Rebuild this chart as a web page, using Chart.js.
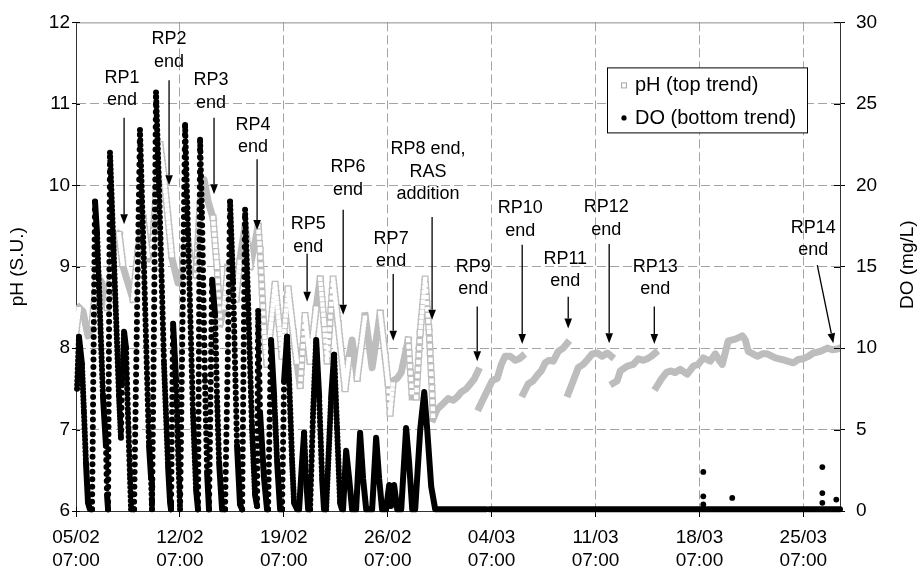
<!DOCTYPE html>
<html><head><meta charset="utf-8">
<script src="https://cdn.jsdelivr.net/npm/chart.js@4.4.1/dist/chart.umd.min.js"></script>
<style>html,body{margin:0;padding:0;background:#fff;}#wrap{width:921px;height:576px;}</style>
</head><body><div id="wrap"><canvas id="c" width="921" height="576"></canvas></div>
<script>
// ---- axis ticks ----
const tickDays = [0, 7, 14, 21, 28, 35, 42, 49];
const tickDates = ['05/02', '12/02', '19/02', '26/02', '04/03', '11/03', '18/03', '25/03'];
const tickTime = '07:00';
const xMaxDay = 51.47;

// ---- DO trace (days since 05/02 07:00, mg/L) ----
const doT = [0.07,0.20,0.40,0.54,0.67,0.81,0.94,
1.08,1.28,1.42,1.82,2.02,2.09,2.16,
2.29,2.49,2.90,3.03,3.10,3.24,3.37,3.50,3.64,3.71,
3.91,4.11,4.31,4.58,4.92,5.06,5.12,
5.26,5.39,5.59,5.93,6.20,6.34,
6.40,6.54,6.74,6.87,7.01,
7.21,7.35,7.55,7.88,8.09,8.22,
8.36,8.49,8.69,8.83,8.96,
9.17,9.37,9.50,9.64,9.84,
10.04,10.24,10.38,10.58,10.85,11.05,11.19,
11.39,11.59,11.86,12.06,12.20,
12.27,12.40,12.67,12.87,
12.94,13.14,13.35,13.55,13.75,
13.88,14.02,14.22,14.36,14.56,14.69,14.90,
15.03,15.23,15.37,15.50,15.64,
15.77,15.97,16.18,16.38,16.58,16.71,
16.85,17.19,17.39,17.59,17.79,17.92,
17.99,18.20,18.40,18.60,
18.87,19.14,19.34,19.55,
19.95,20.22,20.42,20.62,
20.89,21.10,21.23,21.43,21.64,
21.91,22.24,22.44,22.65,
22.85,23.19,23.46,23.66,23.93,24.20,
27.63,27.73,27.84,51.47];
const doV = [7.5,10.7,9,6,3,0.5,0.1,
0.1,19,17,7,4,1,0.1,
22,17,7,4.5,8,11,10,6,2,0.1,
0.1,12,23.4,15,4,2,0.1,
12,25.7,20,9,2.8,0.5,
0.1,11.5,8,4,0.1,
14,23.7,17,6,1.3,0.1,
22.8,18,8,2.4,0.1,
14.2,12,7,3,0.1,
0.1,10,19,14,4,0.4,0.1,
18.5,13,5,1,0.3,
12.4,6,2,0.1,
0.1,10.5,7,3,0.1,
0.1,8,10.7,8,3,0.5,0.1,
0.1,3,4.8,2,0.1,
0.1,6,10.5,7,2,0.1,
0.1,7,9.6,5,0.5,0.1,
0.1,3.7,2,0.1,
0.1,4.8,2,0.1,
0.1,4.5,2,0.1,
0.1,1.6,0.3,1.6,0.1,
0.1,5.1,3,0.1,
0.1,5,7.3,5,1.5,0.1,
0.1,null,0.1,0.1];
// isolated DO readings in late March
const doSpikeT = [42.26, 42.26, 42.26, 44.21, 50.28, 50.28, 50.28, 51.22];
const doSpikeV = [2.4, 0.9, 0.4, 0.8, 2.7, 1.1, 0.5, 0.7];

// ---- pH trace (days, S.U.) ----
const phT = [0.00,0.20,0.47,0.81,1.08,1.42,1.75,2.09,2.29,2.56,2.90,3.17,3.50,3.84,4.18,4.52,4.85,5.12,5.39,5.66,
5.93,6.20,6.47,6.87,7.21,7.48,7.75,8.09,8.36,8.63,8.90,9.23,9.50,9.71,9.98,10.24,10.51,10.78,11.05,11.39,
11.73,12.06,12.27,12.40,12.67,12.87,13.14,13.41,13.68,13.88,14.29,14.63,14.90,15.10,15.43,15.77,16.18,16.45,16.72,16.92,
17.32,17.66,18.13,18.40,18.60,18.94,19.48,19.95,20.49,20.83,21.03,21.16,21.37,21.64,21.91,22.38,22.65,22.92,23.19,23.52,
23.79,23.99,
24.06,24.33,24.74,25.07,25.41,25.68,25.95,26.29,26.56,26.83,27.09,
27.12,
27.16,27.50,27.77,28.04,28.38,28.65,28.91,29.25,29.59,29.86,30.06,
30.10,
30.13,30.46,30.80,31.14,31.34,31.61,31.88,32.15,32.49,32.82,33.09,
33.12,
33.16,33.50,33.83,34.17,34.51,34.78,35.12,35.45,35.79,36.06,
36.12,
36.19,36.46,36.67,37.14,37.54,37.88,38.22,38.49,38.76,39.02,
39.05,
39.09,39.43,39.77,40.04,40.37,40.71,41.18,41.59,41.92,42.26,42.73,43.07,43.34,43.54,43.94,44.42,44.89,45.09,45.29,45.90,
46.24,46.57,47.11,47.58,47.92,48.33,48.66,49.00,49.34,49.67,50.15,50.62,50.95,51.29,51.43];
const phV = [8.2,8.5,8.45,8.15,8.3,8.9,8.8,8.5,8.8,9.3,9.4,9.0,8.8,8.6,9.2,9.6,9.1,9.2,9.9,10.5,
10.1,9.6,9.1,8.8,9.0,9.4,9.0,8.9,9.8,10.07,9.8,9.6,9.0,8.3,8.5,9.0,8.7,8.6,9.1,9.5,
9.0,9.3,9.5,9.2,8.2,7.8,8.3,8.8,8.3,7.9,8.73,8.2,7.8,7.54,8.4,7.84,8.5,8.85,8.3,7.84,
8.85,8.3,7.5,7.9,8.1,7.63,8.4,7.76,8.43,7.9,7.56,7.2,7.6,7.63,7.7,8.1,7.4,7.4,8.2,8.85,
8.2,7.47,
7.13,7.25,7.32,7.38,7.36,7.4,7.46,7.5,7.56,7.62,7.72,
null,
7.27,7.4,7.5,7.6,7.63,7.8,7.9,7.9,7.85,7.87,7.9,
null,
7.44,7.56,7.6,7.68,7.72,7.82,7.85,7.84,7.96,8.0,8.06,
null,
7.44,7.6,7.76,7.8,7.87,7.93,7.94,7.9,7.94,7.9,
null,
7.57,7.6,7.72,7.78,7.8,7.87,7.85,7.87,7.9,7.94,
null,
7.52,7.62,7.7,7.72,7.7,7.74,7.68,7.78,7.8,7.88,7.84,7.93,7.85,7.8,8.09,8.11,8.15,8.1,7.96,7.9,
7.93,7.93,7.88,7.86,7.84,7.82,7.86,7.87,7.9,7.94,7.96,8.0,7.98,7.99,8.0];

// ---- annotations (data coordinates: days, pH) ----
const annText = [["RP1","end"],["RP2","end"],["RP3","end"],["RP4","end"],["RP5","end"],["RP6","end"],["RP7","end"],
  ["RP8 end,","RAS","addition"],["RP9","end"],["RP10","end"],["RP11","end"],["RP12","end"],["RP13","end"],["RP14","end"]];
const annTextDay = [3.10, 6.27, 9.10, 11.93, 15.64, 18.33, 21.23, 23.72, 26.76, 29.93, 32.96, 35.72, 39.02, 49.67];
const annTextPH  = [11.32, 11.79, 11.29, 10.74, 9.52, 10.22, 9.34, 10.44, 9.0, 9.72, 9.10, 9.73, 9.0, 9.48];
const arrowFromDay = [3.24, 6.27, 9.30, 12.20, 15.57, 18.00, 21.37, 23.99, 27.03, 30.06, 33.16, 35.92, 38.96, 49.94];
const arrowFromPH  = [10.83, 11.29, 10.83, 10.32, 9.16, 9.70, 8.91, 9.61, 8.51, 9.27, 8.63, 9.28, 8.51, 9.02];
const arrowToDay   = [3.24, 6.27, 9.30, 12.20, 15.57, 18.00, 21.37, 23.99, 27.03, 30.06, 33.16, 35.92, 38.96, 51.02];
const arrowToPH    = [9.52, 10.0, 9.89, 9.45, 8.57, 8.41, 8.09, 8.35, 7.84, 8.05, 8.24, 8.06, 8.05, 8.06];

const FONT = "'Liberation Sans', Arial, Helvetica, sans-serif";
Chart.defaults.font.family = FONT;
Chart.defaults.color = '#000';

const doData = doT.map((t, i) => ({x: t, y: doV[i]}));
const spikeData = doSpikeT.map((t, i) => ({x: t, y: doSpikeV[i]}));
const phData = phT.map((t, i) => ({x: t, y: phV[i]}));

function slopeGap(c, k, maxG) {
  const dx = Math.abs(c.p1.x - c.p0.x);
  const dy = Math.abs(c.p1.y - c.p0.y);
  return Math.min(maxG, dy / Math.max(dx, 0.3) * k);
}
const DO_K = 0.15, PH_K = 0.46;

const decor = {
  id: 'decor',
  afterDraw(chart) {
    const {ctx, chartArea: a, scales} = chart;
    const x = scales.x, y = scales.y, y2 = scales.y2;
    ctx.save();
    // top frame line
    ctx.strokeStyle = '#8c8c8c'; ctx.lineWidth = 1;
    ctx.beginPath(); ctx.moveTo(a.left, a.top + 0.5); ctx.lineTo(a.right, a.top + 0.5); ctx.stroke();
    // inner halves of tick marks
    ctx.strokeStyle = '#000';
    y.ticks.forEach(t => { const p = Math.round(y.getPixelForValue(t.value)) + 0.5; ctx.beginPath(); ctx.moveTo(a.left, p); ctx.lineTo(a.left + 4, p); ctx.stroke(); });
    y2.ticks.forEach(t => { const p = Math.round(y2.getPixelForValue(t.value)) + 0.5; ctx.beginPath(); ctx.moveTo(a.right - 6, p); ctx.lineTo(a.right, p); ctx.stroke(); });
    x.ticks.forEach(t => { const p = Math.round(x.getPixelForValue(t.value)) + 0.5; ctx.beginPath(); ctx.moveTo(p, a.bottom - 4); ctx.lineTo(p, a.bottom); ctx.stroke(); });
    // annotations
    ctx.fillStyle = '#000'; ctx.strokeStyle = '#000';
    ctx.font = '18px ' + FONT; ctx.textAlign = 'center'; ctx.textBaseline = 'middle';
    annText.forEach((lines, i) => {
      const tx = x.getPixelForValue(annTextDay[i]);
      const ty = y.getPixelForValue(annTextPH[i]);
      lines.forEach((s, j) => ctx.fillText(s, tx, ty + j * 22.5));
      const x0 = x.getPixelForValue(arrowFromDay[i]), y0 = y.getPixelForValue(arrowFromPH[i]);
      const x1 = x.getPixelForValue(arrowToDay[i]), y1 = y.getPixelForValue(arrowToPH[i]);
      const ang = Math.atan2(y1 - y0, x1 - x0);
      const hl = 10, hw = 3.8;
      const bx = x1 - hl * Math.cos(ang), by = y1 - hl * Math.sin(ang);
      ctx.lineWidth = 1.3;
      ctx.beginPath(); ctx.moveTo(x0, y0); ctx.lineTo(bx, by); ctx.stroke();
      ctx.beginPath(); ctx.moveTo(x1, y1);
      ctx.lineTo(bx + hw * Math.sin(ang), by - hw * Math.cos(ang));
      ctx.lineTo(bx - hw * Math.sin(ang), by + hw * Math.cos(ang));
      ctx.closePath(); ctx.fill();
    });
    // legend box
    const lx = a.left + 531.5, ly = a.top + 45.5, lw = 200, lh = 65;
    ctx.fillStyle = '#fff'; ctx.fillRect(lx, ly, lw, lh);
    ctx.strokeStyle = '#000'; ctx.lineWidth = 1; ctx.strokeRect(lx, ly, lw, lh);
    ctx.strokeStyle = '#a8a8a8'; ctx.strokeRect(lx + 14, ly + 15, 5, 5);
    ctx.fillStyle = '#000'; ctx.beginPath(); ctx.arc(lx + 16.5, ly + 50, 2.6, 0, Math.PI * 2); ctx.fill();
    ctx.font = '20px ' + FONT; ctx.textAlign = 'left';
    ctx.fillText('pH (top trend)', lx + 27.5, ly + 18);
    ctx.fillText('DO (bottom trend)', lx + 27.5, ly + 51);
    // axis titles
    ctx.font = '19px ' + FONT; ctx.textAlign = 'center';
    ctx.save(); ctx.translate(a.left - 58, (a.top + a.bottom) / 2); ctx.rotate(-Math.PI / 2); ctx.fillText('pH (S.U.)', 0, 0); ctx.restore();
    ctx.save(); ctx.translate(a.right + 68, (a.top + a.bottom) / 2 - 2); ctx.rotate(-Math.PI / 2); ctx.fillText('DO (mg/L)', 0, 0); ctx.restore();
    ctx.restore();
  }
};

const gridColor = '#a4a4a4';
new Chart(document.getElementById('c'), {
  type: 'line',
  data: {
    datasets: [
      { label: 'DO (bottom trend)', data: doData, yAxisID: 'y2', borderColor: '#000', borderWidth: 6,
        borderCapStyle: 'round', borderJoinStyle: 'round', pointRadius: 0, tension: 0, spanGaps: false, clip: 8,
        segment: { borderDash: c => { const g = slopeGap(c, DO_K, 7.5); return g < 3 ? undefined : [0, g]; } } },
      { label: 'DO readings', data: spikeData, yAxisID: 'y2', showLine: false, pointRadius: 2.9,
        pointBackgroundColor: '#000', pointBorderWidth: 0, clip: 8 },
      { label: 'pH inner', data: phData, yAxisID: 'y', borderColor: 'rgba(255,255,255,0)', borderWidth: 4.4,
        borderCapStyle: 'square', pointRadius: 0, tension: 0, spanGaps: false,
        segment: {
          borderColor: c => slopeGap(c, PH_K, 7) < 3.5 ? 'rgba(255,255,255,0)' : '#fff',
          borderDash: c => { const g = slopeGap(c, PH_K, 7); return g < 3.5 ? undefined : [0, g]; } } },
      { label: 'pH (top trend)', data: phData, yAxisID: 'y', borderColor: '#bdbdbd', borderWidth: 7,
        borderCapStyle: 'square', borderJoinStyle: 'round', pointRadius: 0, tension: 0, spanGaps: false,
        segment: { borderDash: c => { const g = slopeGap(c, PH_K, 7); return g < 3.5 ? undefined : [0, g]; } } }
    ]
  },
  options: {
    responsive: false, animation: false, events: [],
    layout: { padding: { top: 19, left: 0, right: 0, bottom: 0 } },
    plugins: { legend: { display: false }, tooltip: { enabled: false } },
    scales: {
      x: {
        type: 'linear', min: 0, max: xMaxDay,
        afterBuildTicks: s => { s.ticks = tickDays.map(v => ({value: v})); },
        afterFit: s => { s.height = 65; },
        ticks: { autoSkip: false, maxRotation: 0, padding: 9.6, font: { size: 19 }, color: '#000',
          callback: v => { const k = tickDays.indexOf(v); return [tickDates[k], tickTime]; } },
        grid: { color: c => (c.tick && c.tick.value === 0) ? 'rgba(0,0,0,0)' : gridColor, lineWidth: 1, tickLength: 6, tickColor: '#000' },
        border: { color: '#333', width: 1, dash: [9, 4] }
      },
      y: {
        position: 'left', min: 6, max: 12,
        afterFit: s => { s.width = 76; },
        ticks: { stepSize: 1, padding: 2, font: { size: 19 }, color: '#000' },
        grid: { color: c => (c.tick && (c.tick.value === 12 || c.tick.value === 6)) ? 'rgba(0,0,0,0)' : gridColor, lineWidth: 1, tickLength: 4, tickColor: '#000' },
        border: { color: '#333', width: 1, dash: [9, 4] }
      },
      y2: {
        position: 'right', min: 0, max: 30,
        afterFit: s => { s.width = 81; },
        ticks: { stepSize: 5, padding: 11, font: { size: 19 }, color: '#000' },
        grid: { drawOnChartArea: false, tickLength: 5, tickColor: '#000' },
        border: { color: '#333', width: 1 }
      }
    }
  },
  plugins: [decor]
});
</script>
</body></html>
